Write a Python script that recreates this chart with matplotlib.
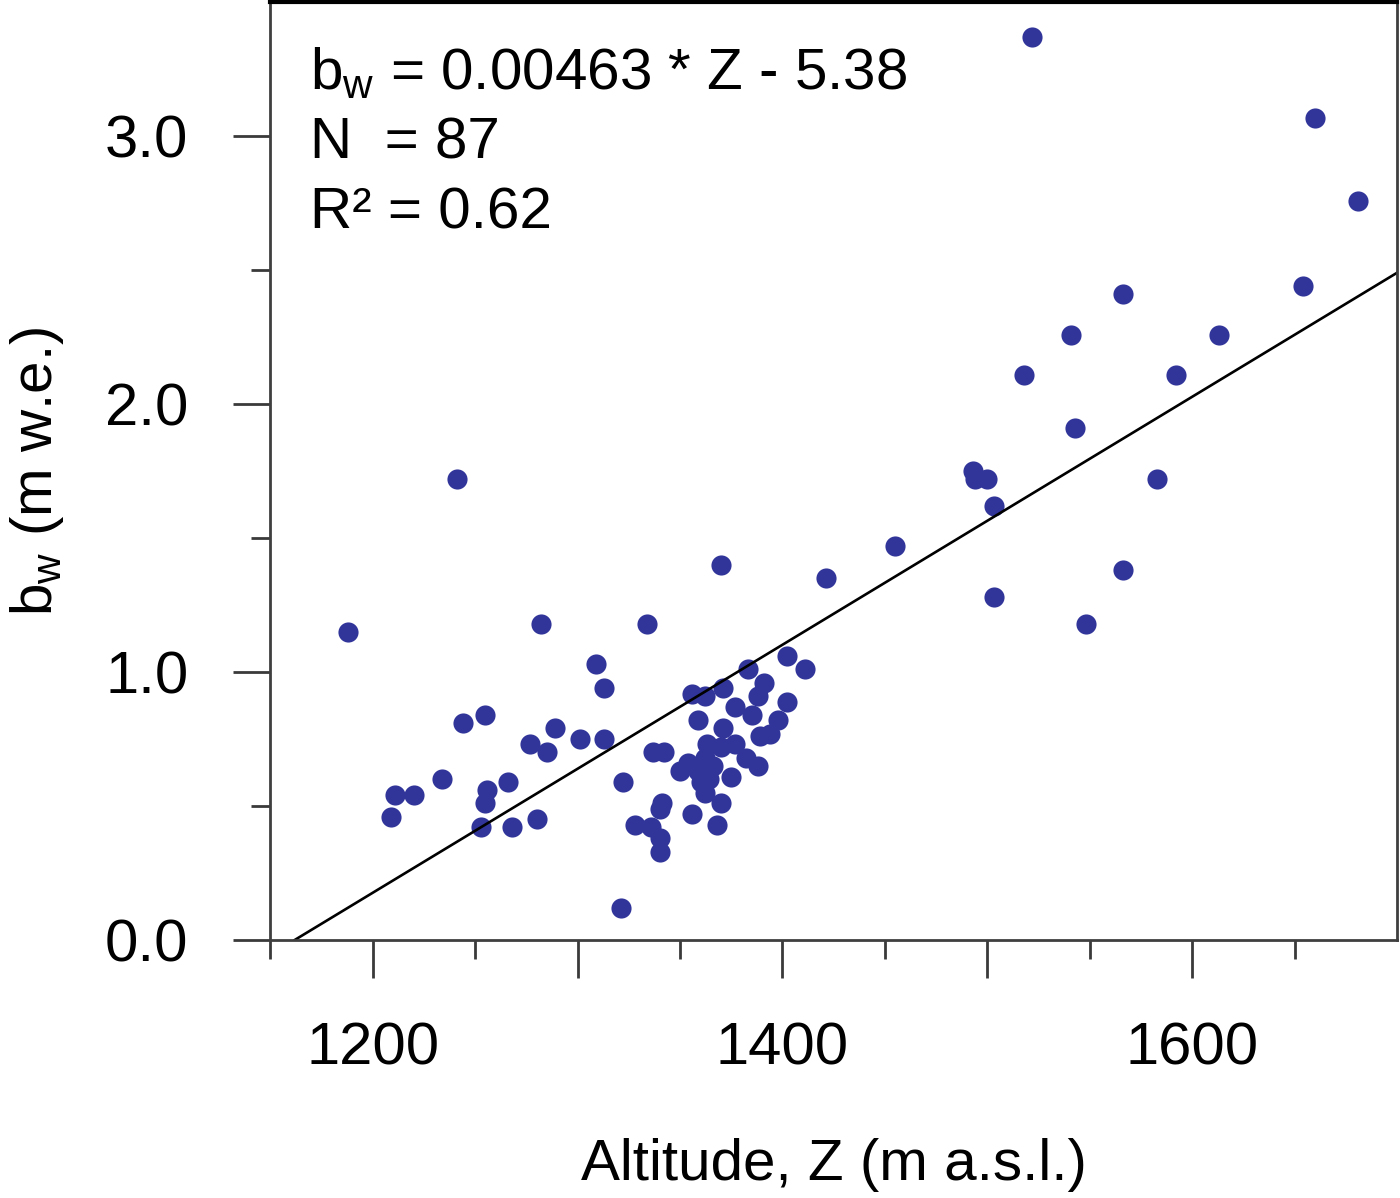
import numpy as np
import matplotlib
matplotlib.use("Agg")
import matplotlib.pyplot as plt
from matplotlib.ticker import FixedLocator

plt.rcParams['font.family'] = ['Liberation Sans', 'DejaVu Sans']
plt.rcParams['mathtext.fontset'] = 'custom'
plt.rcParams['mathtext.rm'] = 'Liberation Sans'
plt.rcParams['mathtext.it'] = 'Liberation Sans:italic'

# Winter balance vs altitude
altitude = [
    1522, 1660, 1681, 1654, 1566, 1541, 1613, 1518, 1592, 1543,
    1493, 1494, 1500, 1583, 1503, 1455, 1566, 1503, 1548, 1421, 1370,
    1241, 1188, 1282, 1334, 1321, 1309, 1313, 1244, 1255, 1289,
    1277, 1285, 1301, 1313, 1322, 1234, 1211, 1220, 1209, 1256,
    1255, 1266, 1253, 1268, 1280,
    1402, 1411, 1383, 1391, 1371, 1356, 1362, 1388, 1377, 1402,
    1385, 1359, 1398, 1371, 1389, 1394, 1363, 1370, 1377, 1337,
    1342, 1362, 1382, 1388, 1350, 1359, 1360, 1375, 1362, 1341,
    1370, 1340, 1356, 1328, 1336, 1368, 1340, 1340, 1366, 1354, 1364,
]
bw = [
    3.37, 3.07, 2.76, 2.44, 2.41, 2.26, 2.26, 2.11, 2.11, 1.91,
    1.75, 1.72, 1.72, 1.72, 1.62, 1.47, 1.38, 1.28, 1.18, 1.35, 1.40,
    1.72, 1.15, 1.18, 1.18, 0.12, 1.03, 0.94, 0.81, 0.84, 0.79,
    0.73, 0.70, 0.75, 0.75, 0.59, 0.60, 0.54, 0.54, 0.46, 0.56,
    0.51, 0.59, 0.42, 0.42, 0.45,
    1.06, 1.01, 1.01, 0.96, 0.94, 0.92, 0.91, 0.91, 0.87, 0.89,
    0.84, 0.82, 0.82, 0.79, 0.76, 0.77, 0.73, 0.72, 0.73, 0.70,
    0.70, 0.68, 0.68, 0.65, 0.63, 0.63, 0.59, 0.61, 0.55, 0.51,
    0.51, 0.49, 0.47, 0.43, 0.42, 0.43, 0.38, 0.33, 0.65, 0.66, 0.60,
]

slope = 0.00463
intercept = -5.38
x_labels = {1200: "1200", 1400: "1400", 1600: "1600"}

fig = plt.figure(figsize=(14, 11.98), dpi=100)
ax = fig.add_axes([0.193, 0.2154, 0.805, 0.7826])

ax.plot(altitude, bw, 'o', color='#31359a', markersize=14.5, markeredgewidth=0)

z_line = np.array([-intercept / slope, 1700])
ax.plot(z_line, slope * z_line + intercept, color='black', linewidth=1.9)

ax.set_xlim(1150, 1700)
ax.set_ylim(0, 3.5)

major_x = list(range(1200, 1700, 100))
ax.xaxis.set_major_locator(FixedLocator(major_x))
ax.set_xticklabels([x_labels.get(v, "") for v in major_x])
ax.xaxis.set_minor_locator(FixedLocator(list(range(1150, 1700, 100))))
ax.yaxis.set_major_locator(FixedLocator([0, 1, 2, 3]))
ax.set_yticklabels(["0.0", "1.0", "2.0", "3.0"])
ax.yaxis.set_minor_locator(FixedLocator([0.5, 1.5, 2.5]))

ax.tick_params(which='major', direction='out', length=27, width=2,
               color='#3a3a3a', labelsize=43, pad=32)
ax.tick_params(which='minor', direction='out', length=14, width=2,
               color='#3a3a3a')

for side in ['left', 'bottom', 'right']:
    ax.spines[side].set_color('#3f3f3f')
    ax.spines[side].set_linewidth(2)
ax.spines['top'].set_color('black')
ax.spines['top'].set_linewidth(3)

ax.set_xlabel("Altitude, Z (m a.s.l.)", fontsize=42, labelpad=44)
ax.set_ylabel(r"b$_{\rm w}$ (m w.e.)", fontsize=42, labelpad=28)

ax.text(0.035, 0.908, r"b$_{\rm w}$ = 0.00463 * Z - 5.38", transform=ax.transAxes,
        fontsize=42, va='baseline')
ax.text(0.035, 0.834, "N  = 87", transform=ax.transAxes, fontsize=42, va='baseline')
ax.text(0.035, 0.759, "R² = 0.62", transform=ax.transAxes, fontsize=42, va='baseline')

fig.savefig("out.png", dpi=100)
